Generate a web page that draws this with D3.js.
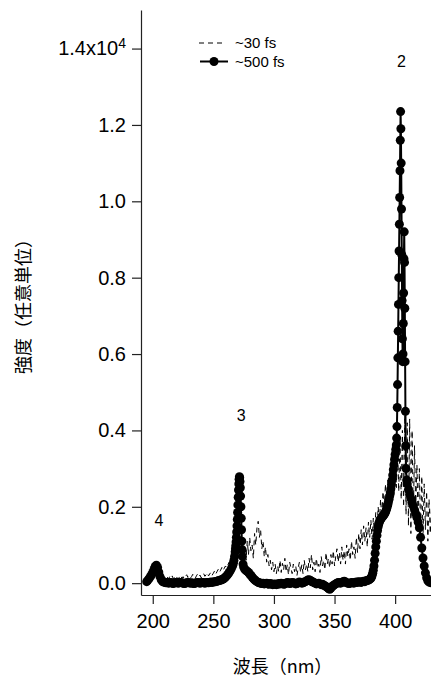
<!DOCTYPE html>
<html>
<head>
<meta charset="utf-8">
<script src="https://cdn.jsdelivr.net/npm/d3@7"></script>
<style>
  body { margin: 0; background: #fff; }
  svg { display: block; }
</style>
</head>
<body>
<script>
// intensities are in units of 10^4 (arbitrary units)
var xTicks = [200, 250, 300, 350, 400];
var yTicks = [0, 0.2, 0.4, 0.6, 0.8, 1.0, 1.2, 1.4];
var seriesNames = ["~30 fs", "~500 fs"];

// ~500 fs spectrum (one line of wavelengths per line of values)
var wave500 = [
  195,196,197,198,199,200,201,202,203,204,
  205,206,207,208,209,210,211,212,213,214,
  215,216,217,218,219,220,221,222,223,224,
  225,226,227,228,229,230,231,232,233,234,
  235,236,237,238,239,240,241,242,243,244,
  245,246,247,248,249,250,251,252,253,254,
  255,256,257,258,259,260,261,262,263,264,
  265,266,266.5,267,267.5,268,268.25,268.5,268.75,269,
  269.25,269.5,269.75,270,270.25,270.5,270.75,271,271.25,271.5,
  271.75,272,272.25,272.5,272.75,273,273.25,273.5,273.75,274,
  274.5,275,276,277,278,279,280,281,282,283,
  284,285,286,287,288,289,290,291,292,293,
  294,295,296,297,298,299,300,301,302,303,
  304,305,306,307,308,309,310,311,312,313,
  314,315,316,317,318,319,320,321,322,323,
  324,325,326,327,328,329,330,331,332,333,
  334,335,336,337,338,339,340,341,342,343,
  344,345,346,347,348,349,350,351,352,353,
  354,355,356,357,358,359,360,361,362,363,
  364,365,366,367,368,369,370,371,372,373,
  374,375,376,377,378,379,380,380.5,381,381.5,
  382,382.5,383,383.5,384,384.5,385,385.5,386,386.5,
  387,387.5,388,388.5,389,389.5,390,390.5,391,391.5,
  392,392.5,393,393.5,394,394.5,395,395.5,396,396.5,
  397,397.5,398,398.5,399,399.5,400,400.5,401,401.25,
  401.5,401.75,402,402.25,402.5,402.75,403,403.25,403.5,403.75,
  404,404.25,404.5,404.75,405,405.25,405.5,405.75,406,406.25,
  406.5,406.75,407,407.25,407.5,407.75,408,408.25,408.5,408.75,
  409,409.5,410,411,412,413,414,415,416,417,
  418,419,420,421,422,423,424,425,426,427,
  428,429,430];
var int500 = [
  .004,.008,.012,.017,.022,.028,.036,.044,.047,.041,
  .029,.017,.009,.005,.003,.002,.001,.002,.000,.001,
  .002,.000,-.001,.001,.002,.001,.000,.001,.002,.001,
  .000,-.001,.000,.001,.002,.001,.000,.001,.000,-.001,
  .000,.001,.002,.001,.000,.001,.002,.001,.000,.001,
  .002,.001,.002,.003,.002,.003,.004,.004,.005,.006,
  .007,.008,.009,.011,.013,.016,.019,.023,.028,.033,
  .039,.046,.052,.06,.07,.082,.09,.098,.108,.12,
  .134,.15,.167,.185,.205,.225,.244,.26,.272,.279,
  .276,.266,.25,.228,.2,.17,.14,.11,.088,.07,
  .05,.042,.036,.033,.031,.028,.024,.02,.016,.012,
  .009,.006,.004,.002,.001,.000,-.001,.000,-.002,-.001,
  .000,-.002,-.003,-.001,-.002,-.004,-.003,-.002,-.004,-.003,
  -.001,-.002,.000,-.001,-.003,-.002,.000,.002,.001,-.001,
  .000,.002,.001,.000,-.002,-.001,.001,.003,.002,.000,
  .001,.003,.004,.006,.008,.009,.007,.005,.003,.002,
  .000,-.002,-.001,.000,-.002,-.004,-.003,-.005,-.007,-.009,
  -.011,-.014,-.016,-.013,-.009,-.006,-.004,-.002,.000,.002,
  .001,.000,.002,.004,.005,.003,.001,.000,-.001,.000,
  .002,.001,.000,.002,.003,.002,.004,.003,.002,.004,
  .005,.004,.006,.007,.008,.010,.013,.016,.02,.026,
  .034,.045,.06,.078,.095,.11,.125,.138,.148,.155,
  .16,.164,.167,.17,.172,.174,.176,.178,.18,.183,
  .186,.19,.195,.2,.206,.213,.22,.228,.237,.247,
  .258,.27,.283,.297,.31,.324,.337,.35,.362,.38,
  .41,.46,.52,.59,.66,.73,.8,.87,.94,1.01,
  1.08,1.16,1.235,1.19,1.1,.98,.86,.74,.64,.58,
  .6,.68,.76,.85,.92,.84,.72,.58,.45,.36,
  .3,.27,.26,.245,.232,.222,.212,.202,.192,.182,
  .172,.16,.145,.12,.092,.066,.045,.027,.014,.006,
  .003,.002,.001];

// ~30 fs spectrum
var wave30 = [
  208,209,210,211,212,213,214,215,216,217,
  218,219,220,221,222,223,224,225,226,227,
  228,229,230,231,232,233,234,235,236,237,
  238,239,240,241,242,243,244,245,246,247,
  248,249,250,251,252,253,254,255,256,257,
  258,259,260,261,262,263,264,265,266,267,
  268,269,270,271,272,273,274,275,276,277,
  278,279,280,281,282,283,284,285,286,287,
  288,289,290,291,292,293,294,295,296,297,
  298,299,300,301,302,303,304,305,306,307,
  308,309,310,311,312,313,314,315,316,317,
  318,319,320,321,322,323,324,325,326,327,
  328,329,330,331,332,333,334,335,336,337,
  338,339,340,341,342,343,344,345,346,347,
  348,349,350,351,352,353,354,355,356,357,
  358,359,360,361,362,363,364,365,366,367,
  368,369,370,371,372,373,374,375,376,377,
  378,379,380,381,382,383,384,385,386,387,
  388,389,390,391,392,393,394,395,396,397,
  398,399,400,401,402,403,404,405,406,407,
  408,409,410,411,412,413,414,415,416,417,
  418,419,420,421,422,423,424,425,426,427,
  428,429,430];
var int30 = [
  .012,.018,.014,.02,.016,.011,.017,.013,.019,.012,
  .015,.02,.014,.011,.016,.021,.013,.017,.012,.018,
  .022,.015,.019,.013,.017,.023,.016,.012,.019,.024,
  .017,.021,.014,.02,.025,.018,.022,.027,.019,.024,
  .029,.021,.026,.032,.024,.03,.036,.028,.034,.041,
  .033,.039,.045,.04,.048,.055,.05,.06,.068,.075,
  .085,.1,.13,.16,.14,.11,.085,.07,.09,.06,
  .11,.075,.12,.085,.1,.065,.13,.1,.145,.162,
  .12,.14,.09,.11,.07,.095,.055,.075,.045,.06,
  .035,.055,.03,.05,.025,.045,.03,.06,.028,.052,
  .035,.065,.03,.048,.022,.055,.04,.025,.05,.03,
  .045,.02,.04,.055,.028,.048,.025,.06,.035,.05,
  .03,.065,.04,.075,.035,.055,.03,.065,.04,.05,
  .028,.07,.045,.06,.035,.08,.05,.065,.04,.075,
  .05,.085,.045,.07,.09,.055,.08,.05,.095,.06,
  .085,.05,.1,.07,.09,.06,.11,.075,.095,.065,
  .12,.08,.13,.09,.14,.1,.15,.11,.145,.095,
  .16,.12,.165,.115,.17,.13,.185,.14,.2,.155,
  .22,.17,.24,.19,.26,.2,.27,.22,.29,.2,
  .3,.23,.33,.25,.36,.24,.38,.22,.4,.2,
  .44,.18,.42,.15,.43,.13,.4,.17,.36,.2,
  .31,.15,.3,.13,.28,.12,.26,.14,.24,.11,
  .22,.13,.2];

// peak numbers (anchored in data units)
var peakText = ["2", "3", "4"];
var peakWave = [405.3, 272.9, 205.2];
var peakInt = [1.352, 0.424, 0.149];

var width = 431, height = 677;
var margin = {top: 10, right: 0, bottom: 82, left: 141};
var numFont = "'Liberation Sans', Arial, sans-serif";
var cjkFont = "'Noto Sans CJK JP', 'Noto Sans CJK SC', sans-serif";

var svg = d3.select("body").append("svg")
    .attr("width", width)
    .attr("height", height);

var x = d3.scaleLinear().domain([190.3, 429.6]).range([margin.left, width - margin.right]);
var y = d3.scaleLinear().domain([-0.031, 1.501]).range([height - margin.bottom, margin.top]);

var d30 = wave30.map(function(w, i) { return [w, int30[i]]; });
var d500 = wave500.map(function(w, i) { return [w, int500[i]]; });
var line = d3.line().x(function(d) { return x(d[0]); }).y(function(d) { return y(d[1]); });

// ~30 fs dashed trace
svg.append("path")
    .datum(d30)
    .attr("d", line)
    .attr("fill", "none")
    .attr("stroke", "#000")
    .attr("stroke-width", 1)
    .attr("stroke-dasharray", "5,4");

// ~500 fs line + markers
svg.append("path")
    .datum(d500)
    .attr("d", line)
    .attr("fill", "none")
    .attr("stroke", "#000")
    .attr("stroke-width", 2);

svg.append("g").selectAll("circle")
    .data(d500)
    .enter().append("circle")
    .attr("cx", function(d) { return x(d[0]); })
    .attr("cy", function(d) { return y(d[1]); })
    .attr("r", 4.5)
    .attr("fill", "#000");

// axes
var xAxis = svg.append("g")
    .attr("transform", "translate(0," + (height - margin.bottom) + ")")
    .call(d3.axisBottom(x).tickValues(xTicks).tickSize(9).tickPadding(10).tickSizeOuter(0));

var yAxis = svg.append("g")
    .attr("transform", "translate(" + margin.left + ",0)")
    .call(d3.axisLeft(y).tickValues(yTicks).tickSize(9).tickPadding(6).tickSizeOuter(0)
        .tickFormat(d3.format(".1f")));

[xAxis, yAxis].forEach(function(g) {
    g.selectAll("path, line").attr("stroke", "#222").attr("stroke-width", 1.2);
    g.selectAll("text").attr("fill", "#000").style("font-family", numFont).style("font-size", "20px");
});

// top tick gets the exponent
yAxis.selectAll(".tick text")
    .filter(function(d) { return d === 1.4; })
    .text(null)
    .call(function(t) {
        t.append("tspan").text("1.4x10");
        t.append("tspan").attr("dy", "-0.55em").style("font-size", "14px").text("4");
    });

// axis titles
svg.append("text")
    .attr("transform", "translate(24,302)rotate(-90)")
    .attr("dy", "0.35em")
    .attr("text-anchor", "middle")
    .style("font-family", cjkFont)
    .style("font-size", "18px")
    .text("強度（任意単位）");

svg.append("text")
    .attr("x", 282.5)
    .attr("y", 673)
    .attr("text-anchor", "middle")
    .style("font-family", cjkFont)
    .style("font-size", "18px")
    .text("波長（nm）");

// peak numbers
svg.selectAll(".peak")
    .data(peakText)
    .enter().append("text")
    .attr("class", "peak")
    .attr("x", function(d, i) { return x(peakWave[i]); })
    .attr("y", function(d, i) { return y(peakInt[i]); })
    .attr("text-anchor", "middle")
    .style("font-family", numFont)
    .style("font-size", "16px")
    .text(function(d) { return d; });

// legend
var legend = svg.append("g").attr("transform", "translate(199,43)");
legend.append("line")
    .attr("x1", 0).attr("x2", 24).attr("y1", 0).attr("y2", 0)
    .attr("stroke", "#000").attr("stroke-width", 1).attr("stroke-dasharray", "5,4");
legend.append("line")
    .attr("x1", 1).attr("x2", 29).attr("y1", 18.5).attr("y2", 18.5)
    .attr("stroke", "#000").attr("stroke-width", 2);
legend.append("circle")
    .attr("cx", 15).attr("cy", 18.5).attr("r", 4.5).attr("fill", "#000");
legend.selectAll(".ltext")
    .data(seriesNames)
    .enter().append("text")
    .attr("class", "ltext")
    .attr("x", 36)
    .attr("y", function(d, i) { return i * 18.5; })
    .attr("dy", "0.35em")
    .style("font-family", numFont)
    .style("font-size", "15px")
    .text(function(d) { return d; });
</script>
</body>
</html>
